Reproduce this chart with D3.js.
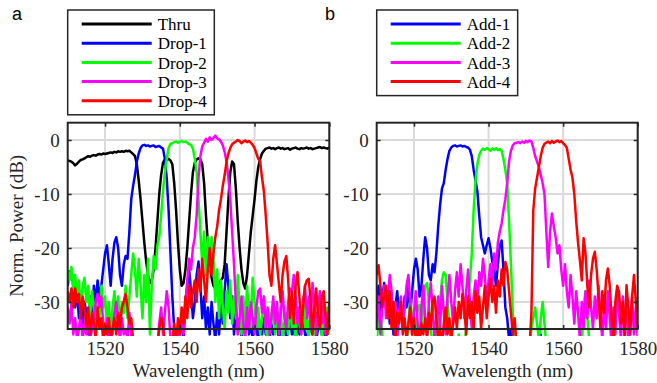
<!DOCTYPE html>
<html>
<head>
<meta charset="utf-8">
<script src="https://cdn.jsdelivr.net/npm/d3@7"></script>
<style>
  html, body { margin: 0; padding: 0; background: #fff; }
  svg { display: block; }
</style>
</head>
<body>
<svg id="chart" width="657" height="383"></svg>
<script>

// Wavelength grid (nm), 0.5 nm sampling
const wavelength = [
  1510, 1510.5, 1511, 1511.5, 1512, 1512.5, 1513, 1513.5, 1514, 1514.5,
  1515, 1515.5, 1516, 1516.5, 1517, 1517.5, 1518, 1518.5, 1519, 1519.5,
  1520, 1520.5, 1521, 1521.5, 1522, 1522.5, 1523, 1523.5, 1524, 1524.5,
  1525, 1525.5, 1526, 1526.5, 1527, 1527.5, 1528, 1528.5, 1529, 1529.5,
  1530, 1530.5, 1531, 1531.5, 1532, 1532.5, 1533, 1533.5, 1534, 1534.5,
  1535, 1535.5, 1536, 1536.5, 1537, 1537.5, 1538, 1538.5, 1539, 1539.5,
  1540, 1540.5, 1541, 1541.5, 1542, 1542.5, 1543, 1543.5, 1544, 1544.5,
  1545, 1545.5, 1546, 1546.5, 1547, 1547.5, 1548, 1548.5, 1549, 1549.5,
  1550, 1550.5, 1551, 1551.5, 1552, 1552.5, 1553, 1553.5, 1554, 1554.5,
  1555, 1555.5, 1556, 1556.5, 1557, 1557.5, 1558, 1558.5, 1559, 1559.5,
  1560, 1560.5, 1561, 1561.5, 1562, 1562.5, 1563, 1563.5, 1564, 1564.5,
  1565, 1565.5, 1566, 1566.5, 1567, 1567.5, 1568, 1568.5, 1569, 1569.5,
  1570, 1570.5, 1571, 1571.5, 1572, 1572.5, 1573, 1573.5, 1574, 1574.5,
  1575, 1575.5, 1576, 1576.5, 1577, 1577.5, 1578, 1578.5, 1579, 1579.5,
  1580
];

// ---- panel a : normalised power (dB) ----
const thru = [
  -3.8, -3.9, -4.0, -4.3, -4.7, -4.4, -4.0, -3.7, -3.6, -3.4,
  -3.2, -3.0, -3.1, -2.9, -2.8, -2.9, -2.7, -2.6, -2.7, -2.5,
  -2.6, -2.5, -2.4, -2.3, -2.4, -2.2, -2.3, -2.1, -2.2, -2.1,
  -2.2, -2.0, -2.1, -2.0, -2.3, -2.6, -3.0, -4.5, -7.5, -11,
  -15, -19, -22.5, -25, -26.5, -26, -24, -20, -15, -10,
  -6.5, -4.2, -3.6, -3.7, -3.5, -3.8, -4.5, -8, -13, -19,
  -24, -27, -26.5, -24, -20, -15, -10, -6, -4.2, -3.6,
  -3.4, -3.6, -4.5, -8, -14, -19, -23, -25.5, -27, -27.5,
  -27, -26.5, -26, -25.5, -23, -17, -11, -6, -4, -4.5,
  -9, -15, -20, -24, -26.5, -27.5, -25, -21, -17, -14,
  -11, -7.5, -5, -3.5, -2.5, -2.0, -1.6, -1.5, -1.4, -1.6,
  -1.5, -1.7, -1.5, -1.4, -1.6, -1.5, -1.7, -1.6, -1.5, -1.8,
  -1.6, -1.5, -1.4, -1.6, -1.7, -1.5, -1.6, -1.5, -1.4, -1.6,
  -1.5, -1.7, -1.6, -1.5, -1.4, -1.3, -1.5, -1.4, -1.5, -1.6,
  -1.4
];

const drop1 = [
  -27, -24.5, -24, -27, -31, -28, -33, -29, -35, -30,
  -32, -36, -29, -33, -27, -30, -26, -29, -27, -24,
  -21, -19.5, -23, -27, -22, -19, -18, -20, -25, -27,
  -23, -21.5, -22, -17, -11, -8.5, -6.5, -4, -2.5, -1.5,
  -1.0, -0.9, -1.1, -1.0, -1.2, -1.1, -1.0, -1.3, -1.2, -1.1,
  -1.4, -1.6, -3.5, -7, -13, -21, -29, -35, -38, -37,
  -36, -33, -37, -30, -27, -24, -28, -33, -30, -25,
  -22.5, -27, -33, -29, -35, -31, -36, -30, -34, -37,
  -32, -36, -30, -34, -28, -23, -27, -33, -29, -36,
  -31, -35, -33, -37, -32, -35, -30, -36, -34, -37,
  -33, -35, -37, -34, -36, -33, -36, -35, -37, -34,
  -36, -35, -33, -37, -35, -36, -34, -37, -35, -33,
  -36, -35, -37, -34, -36, -35, -33, -36, -37, -34,
  -35, -36, -33, -37, -35, -34, -36, -35, -37, -34,
  -36
];

const drop2 = [
  -24, -26, -23.5, -28, -25, -29, -26, -31, -27, -25.5,
  -30, -27, -33, -28, -31, -36, -29, -33, -27, -31,
  -29, -34, -30, -36, -31, -28, -33, -29, -35, -30,
  -32, -27, -33, -29, -25, -21, -24, -29, -22, -27,
  -33, -25, -30, -22, -36, -27, -21.5, -24, -19.5, -18,
  -14, -9.5, -6, -3.5, -1.5, -0.7, -0.6, -0.4, -0.3, -0.5,
  -0.3, -0.2, -0.4, -0.3, -0.5, -0.8, -0.9, -1.6, -3.5, -6,
  -11, -17, -23, -17, -25, -18, -24, -18, -22, -30,
  -24, -33, -26, -31, -35, -28, -32, -26, -34, -29,
  -33, -25, -31, -36, -29, -34, -27, -32, -35, -25.5,
  -30, -35, -31, -36, -33, -29, -35, -37, -32, -34,
  -30, -36, -33, -35, -31, -37, -34, -32, -36, -30,
  -35, -33, -37, -31, -34, -36, -29, -35, -33, -37,
  -31, -34, -36, -32, -35, -30, -37, -33, -35, -31,
  -36
];

const drop3 = [
  -31, -34, -30, -36, -33, -37, -35, -32, -37, -34,
  -36, -33, -37, -35, -33, -30, -28.5, -31, -29, -34,
  -36, -33, -37, -35, -36, -32, -30, -34, -37, -33,
  -36, -35, -37, -32, -36, -38, -45, -45, -45, -45,
  -45, -45, -45, -45, -45, -45, -45, -45, -38, -34,
  -31, -36, -32, -28, -31, -37, -45, -45, -38, -35,
  -37, -33, -36, -30, -26, -22, -24, -20, -18, -14,
  -7, -3, -1.2, -0.5, 0.2, -0.3, 0.5, 0.0, 0.4, 0.8,
  0.3, 0.1, -0.3, -1.0, -2.2, -4, -7, -11, -17, -23,
  -30, -36, -33, -29, -34, -37, -31, -35, -30, -33,
  -36, -31, -28, -27.5, -32, -29, -35, -31, -36, -33,
  -29, -34, -30, -36, -32, -28, -33, -35, -30, -27.5,
  -28, -25, -29, -34, -31, -36, -30, -27, -33, -29,
  -35, -26.5, -30, -36, -31, -28, -34, -30, -36, -32,
  -35
];

const drop4 = [
  -28, -30, -27.5, -31, -27.5, -30, -28.5, -33, -29, -31,
  -35, -31, -36, -32, -34, -37, -31, -35, -33, -37,
  -34, -36, -33, -37, -35, -33, -36, -32, -35, -31,
  -30, -28.5, -31, -34, -33, -37, -45, -45, -45, -45,
  -45, -45, -45, -45, -45, -45, -45, -45, -38, -35,
  -33, -34, -38, -45, -45, -45, -37, -34, -38, -33,
  -36, -31, -34, -29, -33, -27, -31, -28, -26, -30,
  -24, -28, -22, -26, -30, -24, -20, -25, -21, -18,
  -16, -13, -11, -8.5, -6.5, -4, -2.5, -1.5, -0.8, -0.5,
  -0.3, 0, -0.2, -0.6, -0.3, -0.1, -0.4, -0.2, -0.5, -0.9,
  -1.5, -2.5, -3.5, -4, -7, -9.5, -14, -19, -25, -27,
  -22, -19.5, -23, -26.5, -30, -25, -22.5, -21.5, -26, -33,
  -28, -34, -27, -24.5, -29, -35, -31, -27, -26, -25.7,
  -30, -36, -31, -27.5, -33, -35, -29, -28, -33, -36,
  -30
];

// ---- panel b : normalised power (dB) ----
const add1 = [
  -30, -27, -33, -29, -26.5, -31, -28, -34, -30, -36,
  -31, -28, -33, -30, -35, -29, -31, -27, -32, -28,
  -24, -22, -24, -29, -27, -22, -18, -20, -25, -26,
  -23, -24.5, -21, -16, -12, -9, -8, -5.5, -3.5, -2,
  -1.4, -1.1, -1.0, -1.2, -1.1, -1.0, -1.2, -1.1, -1.3, -1.4,
  -1.8, -3, -5.5, -7.5, -9.5, -14, -18, -19.5, -21, -19.5,
  -18.2, -20, -22.5, -24, -27, -23, -19.5, -18.6, -24, -31,
  -33, -37, -35, -38, -36, -45, -45, -38, -45, -45,
  -45, -37, -45, -45, -38, -45, -45, -45, -36, -45,
  -45, -45, -38, -45, -45, -45, -37, -45, -45, -45,
  -45, -38, -45, -45, -45, -45, -37, -45, -45, -38,
  -45, -45, -45, -37, -45, -45, -45, -45, -38, -45,
  -45, -45, -37, -45, -45, -45, -38, -45, -45, -45,
  -37, -45, -45, -45, -38, -45, -45, -45, -37, -45,
  -45
];

const add2 = [
  -37, -34, -32, -36, -39, -37, -45, -45, -38, -45,
  -45, -45, -38, -45, -45, -45, -38, -34, -29.5, -33,
  -38, -35, -31, -30.5, -35, -31, -27, -26.5, -30, -35,
  -38, -45, -37, -34, -30, -26, -24.5, -25, -30, -35,
  -38, -45, -45, -38, -36, -39, -45, -38, -35, -30,
  -26, -21, -13, -7.5, -4.5, -2.8, -2.0, -1.6, -1.8, -1.5,
  -1.7, -2.0, -1.6, -1.8, -1.5, -1.9, -1.7, -2.0, -3.5, -5.5,
  -8, -15, -23, -32, -37, -45, -45, -45, -45, -45,
  -45, -45, -38, -35, -33, -31, -34, -37, -33, -30,
  -34, -38, -45, -45, -45, -38, -45, -45, -45, -45,
  -45, -38, -45, -45, -45, -45, -37, -45, -45, -45,
  -38, -31, -28, -33, -37, -45, -45, -45, -38, -45,
  -45, -45, -45, -38, -45, -45, -45, -45, -37, -45,
  -45, -45, -38, -45, -45, -45, -45, -38, -45, -45,
  -45
];

const add3 = [
  -34, -29, -36, -31, -27, -33, -29, -25, -28, -35,
  -30, -37, -32, -29, -35, -31, -27, -25, -30, -36,
  -32, -28, -34, -38, -31, -27, -33, -36, -30, -26.5,
  -31, -37, -33, -29, -35, -27, -32, -36, -29, -25,
  -30, -34, -28, -24.5, -29, -23, -27, -33, -28, -24,
  -30, -35, -29, -26, -31, -24.5, -27, -22, -25, -30,
  -26, -23, -27, -21, -24, -19, -17, -15.5, -13, -11,
  -8, -4, -2, -1, -0.6, -0.5, -0.4, -0.6, -0.3, -0.5,
  -0.2, -0.4, -0.1, -0.3, -1.5, -3, -4, -5, -6.5, -8,
  -10, -17, -23.5, -17, -13.6, -16, -18, -21, -19.5, -24,
  -27, -23, -28, -31, -25, -29, -34, -28, -32, -37,
  -30, -35, -28, -33, -26, -31, -35, -29, -33, -27,
  -32, -37, -30, -35, -28, -33, -38, -31, -36, -27.5,
  -32, -37, -29, -34, -31, -38, -33, -29, -36, -31,
  -37
];

const add4 = [
  -25, -23.2, -27, -31, -29, -27, -33, -28, -35, -30,
  -37, -32, -34, -30, -36, -33, -37, -34, -31, -36,
  -33, -37, -35, -38, -34, -36, -33, -37, -32, -35,
  -30, -29, -33, -37, -35, -38, -34, -31, -36, -33,
  -37, -34, -31, -35, -30, -33, -28.5, -31, -36, -29,
  -33, -30, -35, -28, -32, -29, -35, -31, -27, -33,
  -29, -25.7, -30, -27, -32, -26, -29, -24, -27, -22.6,
  -24, -28, -32, -36, -33, -38, -45, -45, -45, -45,
  -45, -45, -38, -32, -13, -9, -7, -5, -3, -1.5,
  -0.7, -0.5, -0.3, -0.6, -0.2, -0.5, -0.3, -0.1, -0.4, -0.2,
  -0.6, -0.9, -1.5, -3.5, -5.5, -7, -10, -15, -19, -22.3,
  -26, -18.2, -21, -27, -31, -25, -22, -20.7, -24, -29,
  -35, -28, -32, -26, -23.8, -27, -33, -37, -30, -27,
  -28.1, -34, -30, -37, -26.9, -31, -36, -29, -25, -30,
  -35
];

// Axes
const xTicks = [1520, 1540, 1560, 1580];
const yTicks = [0, -10, -20, -30];

const legendA = ["Thru", "Drop-1", "Drop-2", "Drop-3", "Drop-4"];
const legendB = ["Add-1", "Add-2", "Add-3", "Add-4"];


const svg = d3.select("#chart");

const SERIF = "Liberation Serif";
const AXIS_COLOR = "#262626";

// plot area geometry
const TOP = 122.7;
const BOTTOM = 329;

const y = d3.scaleLinear().domain([-35, 3.2]).range([BOTTOM, TOP]);


function drawPanel(opts)
{
  const x = d3.scaleLinear().domain([1510, 1580]).range([opts.left, opts.right]);
  const g = svg.append("g").attr("id", "panel-" + opts.id);

  // grid lines under the data
  const grid = g.append("g").attr("stroke", "#dadada").attr("stroke-width", 2);
  grid.selectAll("line.gx")
      .data(xTicks)
      .join("line")
      .attr("class", "gx")
      .attr("x1", d => x(d)).attr("x2", d => x(d))
      .attr("y1", TOP).attr("y2", BOTTOM);
  grid.selectAll("line.gy")
      .data(yTicks)
      .join("line")
      .attr("class", "gy")
      .attr("x1", opts.left).attr("x2", opts.right)
      .attr("y1", d => y(d)).attr("y2", d => y(d));

  // the traces are clipped a little below the bottom axis, like the original
  const clipId = "clip-" + opts.id;
  svg.append("clipPath").attr("id", clipId)
      .append("rect")
      .attr("x", opts.left)
      .attr("y", TOP)
      .attr("width", opts.right - opts.left)
      .attr("height", BOTTOM - TOP + 7);

  const line = d3.line()
      .x((d, i) => x(wavelength[i]))
      .y(d => y(d));

  g.append("g")
      .attr("clip-path", "url(#" + clipId + ")")
      .selectAll("path")
      .data(opts.series)
      .join("path")
      .attr("d", s => line(s.values))
      .attr("fill", "none")
      .attr("stroke", s => s.color)
      .attr("stroke-width", 2.5)
      .attr("stroke-linejoin", "round");

  // axes: labelled bottom / left, tick marks only on top / right
  const axisStyle = sel => sel
      .attr("color", AXIS_COLOR)
      .attr("font-family", SERIF)
      .attr("font-size", 19)
      .call(a => a.select(".domain").remove())
      .call(a => a.selectAll("line").attr("stroke-width", 1.5));

  g.append("g")
      .attr("transform", "translate(0," + BOTTOM + ")")
      .call(d3.axisBottom(x).tickValues(xTicks).tickSizeInner(-4).tickSizeOuter(0)
          .tickPadding(12.5).tickFormat(d3.format("d")))
      .call(axisStyle);
  g.append("g")
      .attr("transform", "translate(0," + TOP + ")")
      .call(d3.axisTop(x).tickValues(xTicks).tickSizeInner(-4).tickSizeOuter(0)
          .tickFormat(""))
      .call(axisStyle);
  g.append("g")
      .attr("transform", "translate(" + opts.left + ",0)")
      .call(d3.axisLeft(y).tickValues(yTicks).tickSizeInner(-4).tickSizeOuter(0)
          .tickPadding(8).tickFormat(d => d < 0 ? "-" + Math.abs(d) : String(d)))
      .call(axisStyle);
  g.append("g")
      .attr("transform", "translate(" + opts.right + ",0)")
      .call(d3.axisRight(y).tickValues(yTicks).tickSizeInner(-4).tickSizeOuter(0)
          .tickFormat(""))
      .call(axisStyle);

  // box
  g.append("rect")
      .attr("x", opts.left).attr("y", TOP)
      .attr("width", opts.right - opts.left)
      .attr("height", BOTTOM - TOP)
      .attr("fill", "none")
      .attr("stroke", AXIS_COLOR)
      .attr("stroke-width", 2);

  // axis titles
  g.append("text")
      .attr("x", (opts.left + opts.right) / 2)
      .attr("y", 377)
      .attr("text-anchor", "middle")
      .attr("font-family", SERIF)
      .attr("font-size", 19)
      .attr("fill", AXIS_COLOR)
      .text("Wavelength (nm)");

  if (opts.yTitle)
  {
    g.append("text")
        .attr("transform", "translate(23," + ((TOP + BOTTOM) / 2) + ") rotate(-90)")
        .attr("text-anchor", "middle")
        .attr("font-family", SERIF)
        .attr("font-size", 19)
        .attr("fill", AXIS_COLOR)
        .text(opts.yTitle);
  }

  // panel letter
  svg.append("text")
      .attr("x", opts.letterX)
      .attr("y", 20)
      .attr("font-family", "Liberation Sans")
      .attr("font-size", 18)
      .attr("fill", "#000")
      .text(opts.id);

  // legend
  const LEGEND_TOP = 10, ROW0 = 14, ROW_STEP = 19.2;
  const legend = svg.append("g")
      .attr("transform", "translate(" + opts.left + "," + LEGEND_TOP + ")");
  const box = legend.append("rect")
      .attr("fill", "#fff")
      .attr("stroke", AXIS_COLOR)
      .attr("stroke-width", 1.5);
  const items = legend.selectAll("g.item")
      .data(opts.series)
      .join("g")
      .attr("class", "item")
      .attr("transform", (d, i) => "translate(0," + (ROW0 + i * ROW_STEP) + ")");
  items.append("line")
      .attr("x1", 14).attr("x2", 84)
      .attr("stroke", d => d.color)
      .attr("stroke-width", 3);
  items.append("text")
      .attr("x", 90)
      .attr("y", 6.2)
      .attr("font-family", SERIF)
      .attr("font-size", 17)
      .attr("fill", "#000")
      .text(d => d.name);

  let maxLen = 0;
  items.selectAll("text").each(function () {
    maxLen = Math.max(maxLen, this.getComputedTextLength());
  });
  box.attr("width", 90 + maxLen + 7.5)
      .attr("height", ROW0 + (opts.series.length - 1) * ROW_STEP + 14);
}


const seriesA = [
  { name: legendA[0], values: thru,  color: "#000000" },
  { name: legendA[1], values: drop1, color: "#0000ff" },
  { name: legendA[2], values: drop2, color: "#00ff00" },
  { name: legendA[3], values: drop3, color: "#ff00ff" },
  { name: legendA[4], values: drop4, color: "#ff0000" }
];
const seriesB = [
  { name: legendB[0], values: add1, color: "#0000ff" },
  { name: legendB[1], values: add2, color: "#00ff00" },
  { name: legendB[2], values: add3, color: "#ff00ff" },
  { name: legendB[3], values: add4, color: "#ff0000" }
];

drawPanel({
  id: "a", left: 67.7, right: 329.3, letterX: 12,
  series: seriesA,
  yTitle: "Norm. Power (dB)"
});
drawPanel({
  id: "b", left: 376.7, right: 637.7, letterX: 325,
  series: seriesB
});

</script>
</body>
</html>
